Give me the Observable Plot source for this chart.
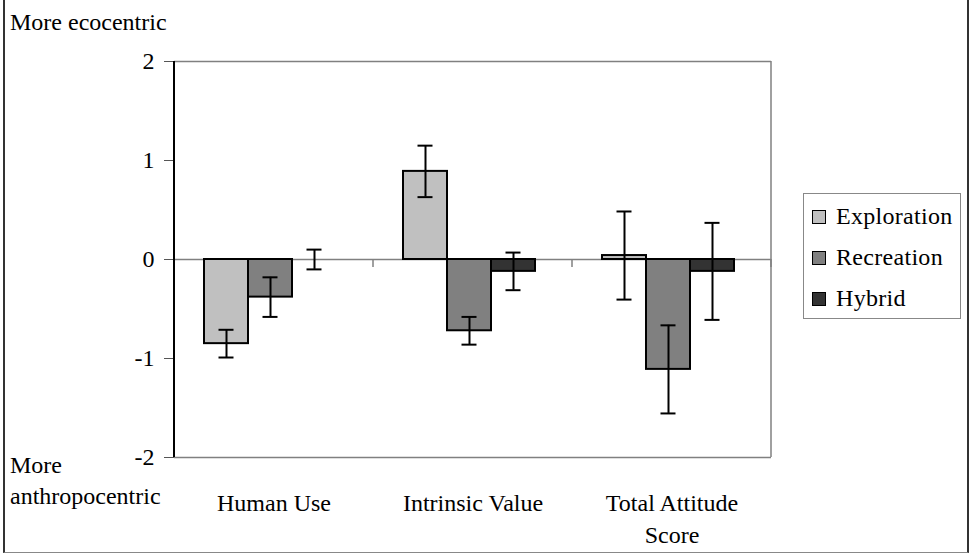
<!DOCTYPE html>
<html>
<head>
<meta charset="utf-8">
<script src="https://cdn.jsdelivr.net/npm/d3@7"></script>
<script src="https://cdn.jsdelivr.net/npm/@observablehq/plot@0.6"></script>
<style>
  html, body { margin: 0; padding: 0; background: #fff; }
  #wrap, #wrap * { font-family: 'Liberation Serif', serif; }
  #wrap { position: relative; width: 970px; height: 553px; overflow: hidden; color: #000; }
  #border { position: absolute; left: 3px; top: -2px; width: 966px; height: 555px; box-sizing: border-box; border-left: 2px solid #333; border-right: 2px solid #333; border-top: 2px solid #333; border-bottom: 1px solid #888; pointer-events: none; }
  .lbl { position: absolute; font-size: 24px; line-height: 24px; white-space: nowrap; }
  #legend { position: absolute; left: 803px; top: 193px; width: 158px; height: 126px; box-sizing: border-box; border: 1px solid #888; background: #fff; }
  .row { position: absolute; left: 0; height: 30px; display: flex; align-items: center; font-size: 24px; line-height: 24px; letter-spacing: 0.3px; }
  .sw { width: 14px; height: 14px; box-sizing: border-box; border: 1.5px solid #000; margin-left: 8px; margin-right: 10px; position: relative; top: 1px; }
  svg { position: absolute; left: 0; top: 0; }
</style>
</head>
<body>
<div id="wrap"></div>
<script>
// ---- data ----
const categories = ["Human Use", "Intrinsic Value", "Total Attitude Score"];
const categoryLabels = ["Human Use", "Intrinsic Value", "Total Attitude\nScore"];
const groups = ["Exploration", "Recreation", "Hybrid"];
const groupColors = ["#c0c0c0", "#808080", "#333333"];
const exploration = [-0.85, 0.89, 0.04];
const recreation = [-0.38, -0.72, -1.11];
const hybrid = [0.0, -0.12, -0.12];
const explorationErr = [0.14, 0.26, 0.445];
const recreationErr = [0.20, 0.14, 0.445];
const hybridErr = [0.10, 0.19, 0.49];
const yTicks = [-2, -1, 0, 1, 2];

const values = [exploration, recreation, hybrid];
const errors = [explorationErr, recreationErr, hybridErr];
const rows = categories.flatMap((c, i) => groups.map((g, j) => ({
  category: c, group: g, value: values[j][i], err: errors[j][i]
})));

const serif = "'Liberation Serif', serif";

const chart = Plot.plot({
  width: 970,
  height: 553,
  marginLeft: 173,
  marginRight: 199,
  marginTop: 61,
  marginBottom: 96,
  style: { fontFamily: serif, fontSize: "24px", background: "transparent", color: "#000", overflow: "visible" },
  fx: { domain: categories, padding: 0, label: null },
  x: { domain: groups, paddingInner: 0, paddingOuter: 0.72, align: 0.45, axis: null },
  y: { domain: [-2, 2], label: null },
  color: { domain: groups, range: groupColors },
  marks: [
    Plot.ruleY([-2, 2], { stroke: "#808080", strokeWidth: 1.5 }),
    Plot.ruleY([0], { stroke: "#808080", strokeWidth: 1.5 }),
    Plot.barY(rows.filter(d => d.value !== 0), {
      fx: "category", x: "group", y1: 0, y2: "value",
      fill: "group", stroke: "#000", strokeWidth: 2
    }),
    Plot.ruleX(rows, {
      fx: "category", x: "group", y1: d => d.value - d.err, y2: d => d.value + d.err,
      stroke: "#000", strokeWidth: 2
    }),
    Plot.tickY(rows, {
      fx: "category", x: "group", y: d => d.value - d.err,
      stroke: "#000", strokeWidth: 2, insetLeft: 14.5, insetRight: 14.5
    }),
    Plot.tickY(rows, {
      fx: "category", x: "group", y: d => d.value + d.err,
      stroke: "#000", strokeWidth: 2, insetLeft: 14.5, insetRight: 14.5
    }),
    Plot.axisY({
      ticks: yTicks, tickFormat: d => `${d}`, tickSize: 10, tickPadding: 10,
      stroke: "#555", fill: "#000", fontSize: 24, label: null
    }),
    Plot.axisFx({
      anchor: "bottom", tickSize: 0, tickPadding: 31, fontSize: 24, lineHeight: 1.33,
      tickFormat: d => categoryLabels[categories.indexOf(d)], fill: "#000", label: null
    })
  ]
});

// frame sides and category boundary ticks, positioned with Plot's own scales
const fxs = chart.scale("fx");
const ys = chart.scale("y");
const svg = d3.select(chart);
const left = fxs.apply(categories[0]);
const right = fxs.apply(categories[categories.length - 1]) + fxs.bandwidth;
const g = svg.append("g");
const bounds = categories.map(c => fxs.apply(c)).concat([right]);
g.selectAll("line.btick").data(bounds).join("line")
  .attr("x1", d => d).attr("x2", d => d)
  .attr("y1", ys.apply(0)).attr("y2", ys.apply(0) + 8)
  .attr("stroke", "#808080").attr("stroke-width", 1.5);
g.append("line").attr("x1", right).attr("x2", right)
  .attr("y1", ys.apply(2)).attr("y2", ys.apply(-2))
  .attr("stroke", "#808080").attr("stroke-width", 1.5);
g.append("line").attr("x1", left).attr("x2", left)
  .attr("y1", ys.apply(2)).attr("y2", ys.apply(-2))
  .attr("stroke", "#000").attr("stroke-width", 2);

const wrap = document.getElementById("wrap");
wrap.appendChild(chart);

// corner labels
function addLabel(text, x, y) {
  const d = document.createElement("div");
  d.className = "lbl";
  d.style.left = x + "px";
  d.style.top = y + "px";
  d.textContent = text;
  wrap.appendChild(d);
}
addLabel("More ecocentric", 10, 10);
addLabel("More", 10, 453);
addLabel("anthropocentric", 10, 484);

// legend
const legend = document.createElement("div");
legend.id = "legend";
groups.forEach((gname, i) => {
  const r = document.createElement("div");
  r.className = "row";
  r.style.top = (7 + i * 41) + "px";
  const sw = document.createElement("div");
  sw.className = "sw";
  sw.style.background = groupColors[i];
  const t = document.createElement("span");
  t.textContent = gname;
  r.appendChild(sw);
  r.appendChild(t);
  legend.appendChild(r);
});
wrap.appendChild(legend);

const border = document.createElement("div");
border.id = "border";
wrap.appendChild(border);
</script>
</body>
</html>
